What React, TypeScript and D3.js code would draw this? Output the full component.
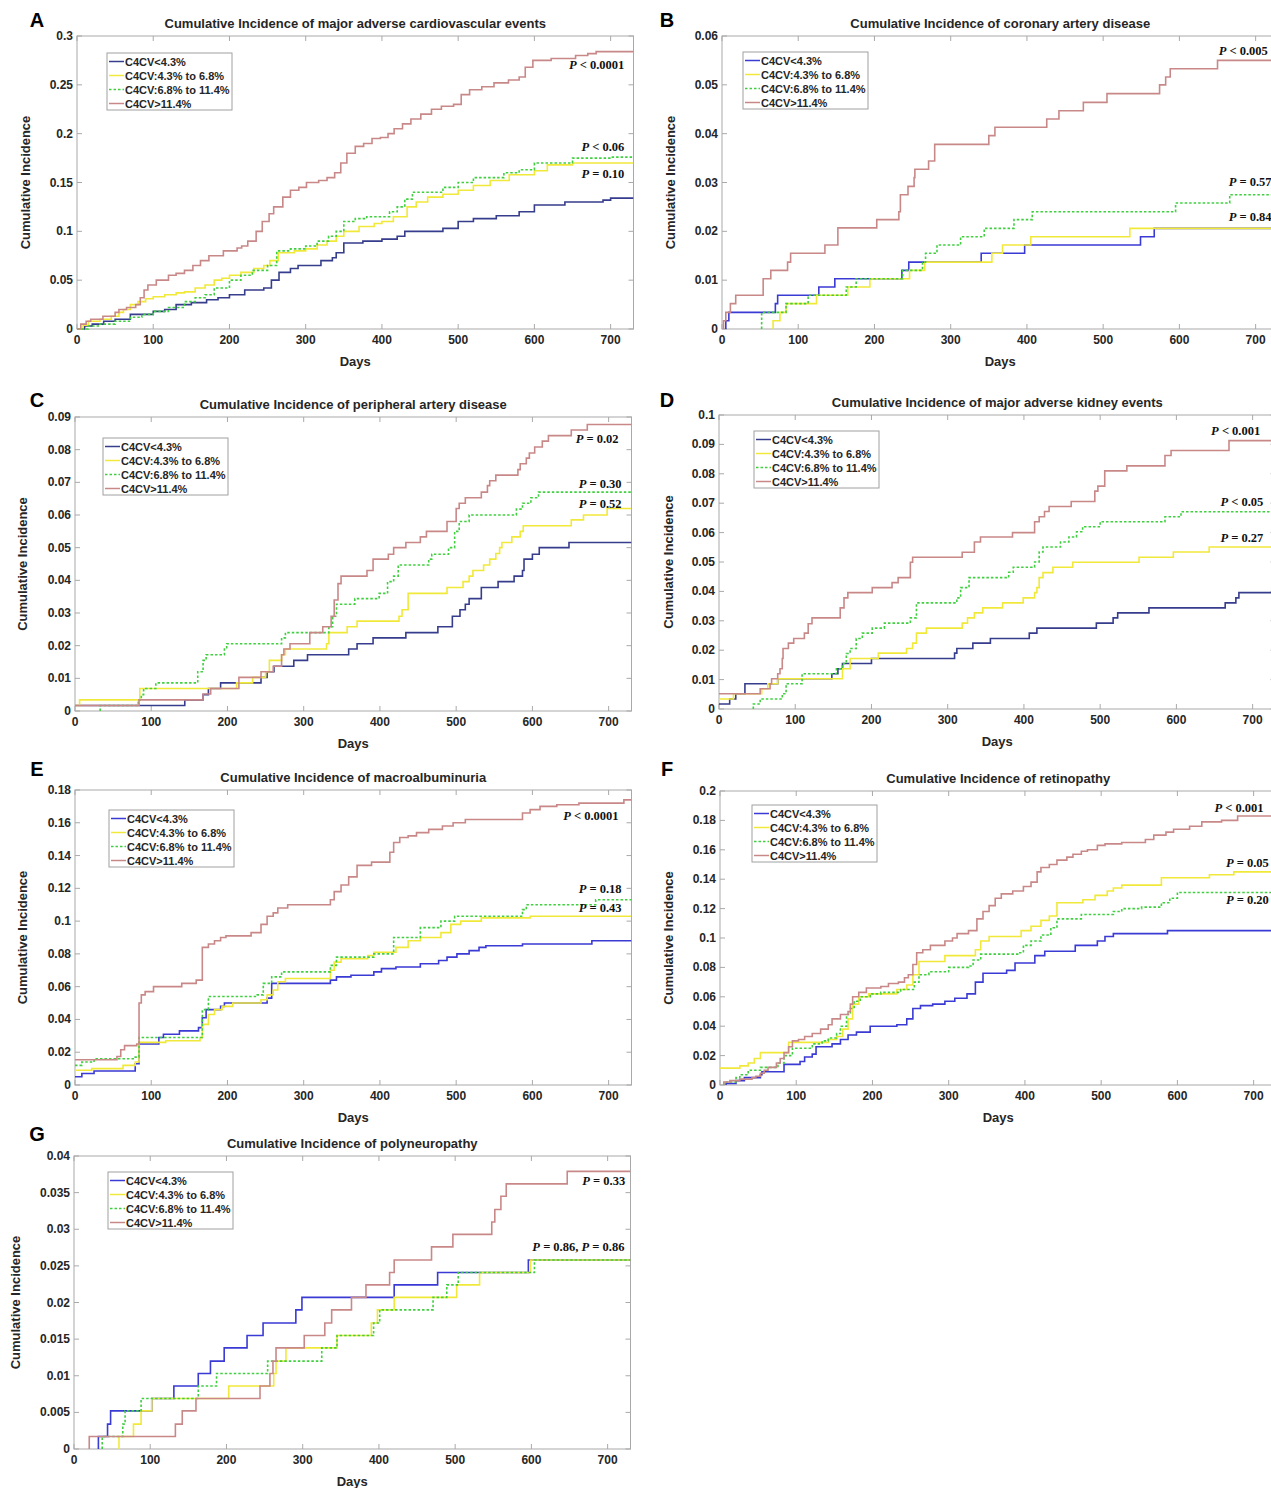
import React from 'react'
import * as d3 from 'd3'

type Pt = [number, number]

const groups = ['C4CV<4.3%', 'C4CV:4.3% to 6.8%', 'C4CV:6.8% to 11.4%', 'C4CV>11.4%']
const xTicks = [0, 100, 200, 300, 400, 500, 600, 700]
const maxDay = 730

// A: major adverse cardiovascular events
const maceBlue: Pt[] = [[0, 0], [10, 0.003], [20, 0.005], [35, 0.008], [50, 0.01], [70, 0.015], [100, 0.018], [115, 0.02], [130, 0.025], [150, 0.027], [170, 0.03], [185, 0.032], [200, 0.035], [220, 0.04], [245, 0.042], [255, 0.05], [265, 0.058], [280, 0.062], [290, 0.065], [320, 0.07], [335, 0.073], [340, 0.078], [350, 0.088], [375, 0.09], [400, 0.092], [420, 0.095], [430, 0.1], [480, 0.103], [500, 0.11], [520, 0.113], [550, 0.116], [580, 0.12], [600, 0.127], [640, 0.13], [690, 0.132], [700, 0.134]]
const maceYellow: Pt[] = [[0, 0], [8, 0.004], [15, 0.008], [30, 0.01], [45, 0.013], [55, 0.017], [61, 0.02], [70, 0.025], [80, 0.028], [90, 0.031], [100, 0.033], [115, 0.035], [130, 0.037], [141, 0.038], [155, 0.042], [168, 0.045], [180, 0.05], [190, 0.052], [200, 0.055], [215, 0.058], [232, 0.062], [245, 0.065], [253, 0.07], [264, 0.078], [285, 0.08], [300, 0.082], [315, 0.086], [328, 0.09], [340, 0.095], [350, 0.1], [370, 0.105], [390, 0.108], [400, 0.11], [415, 0.115], [433, 0.125], [445, 0.13], [460, 0.135], [480, 0.138], [500, 0.142], [520, 0.147], [542, 0.152], [567, 0.158], [600, 0.162], [617, 0.168], [650, 0.17]]
const maceGreen: Pt[] = [[0, 0], [15, 0.003], [30, 0.005], [50, 0.008], [70, 0.012], [85, 0.015], [100, 0.018], [120, 0.022], [141, 0.028], [155, 0.032], [168, 0.035], [180, 0.042], [200, 0.05], [215, 0.055], [230, 0.06], [250, 0.065], [262, 0.08], [280, 0.082], [300, 0.085], [315, 0.09], [330, 0.095], [340, 0.1], [350, 0.11], [365, 0.113], [380, 0.115], [410, 0.12], [420, 0.125], [430, 0.133], [440, 0.14], [480, 0.145], [500, 0.15], [520, 0.155], [560, 0.16], [580, 0.163], [600, 0.17], [650, 0.175], [700, 0.176]]
const maceRed: Pt[] = [[0, 0], [5, 0.005], [12, 0.008], [18, 0.01], [34, 0.013], [50, 0.017], [55, 0.02], [65, 0.022], [77, 0.025], [83, 0.032], [88, 0.04], [93, 0.045], [104, 0.05], [120, 0.055], [130, 0.057], [141, 0.06], [152, 0.065], [162, 0.07], [173, 0.075], [192, 0.08], [210, 0.083], [216, 0.085], [224, 0.09], [235, 0.1], [243, 0.11], [252, 0.118], [258, 0.125], [270, 0.135], [280, 0.142], [291, 0.145], [301, 0.15], [317, 0.152], [328, 0.155], [338, 0.16], [346, 0.17], [354, 0.18], [365, 0.187], [376, 0.19], [387, 0.195], [398, 0.196], [408, 0.2], [416, 0.205], [427, 0.21], [438, 0.215], [451, 0.22], [465, 0.225], [478, 0.228], [494, 0.23], [504, 0.24], [515, 0.245], [531, 0.248], [547, 0.252], [566, 0.255], [580, 0.258], [588, 0.268], [598, 0.275], [622, 0.277], [654, 0.28], [670, 0.282], [681, 0.284]]
const maceP = ['P < 0.0001', 'P < 0.06', 'P = 0.10']

// B: coronary artery disease
const cadBlue: Pt[] = [[5, 0], [5, 0.0017], [9, 0.0034], [70, 0.0052], [73, 0.0069], [127, 0.0086], [148, 0.0103], [236, 0.012], [245, 0.0137], [340, 0.0155], [397, 0.0172], [549, 0.0189], [567, 0.0206]]
const cadYellow: Pt[] = [[67, 0], [67, 0.0017], [76, 0.0034], [84, 0.0052], [124, 0.0069], [165, 0.0086], [194, 0.0103], [246, 0.012], [266, 0.0137], [354, 0.0155], [368, 0.0172], [405, 0.0189], [535, 0.0206]]
const cadGreen: Pt[] = [[52, 0], [52, 0.0034], [84, 0.0052], [113, 0.0069], [163, 0.0086], [176, 0.0103], [237, 0.012], [263, 0.0137], [267, 0.0155], [282, 0.0172], [313, 0.0189], [344, 0.0206], [383, 0.0224], [407, 0.024], [595, 0.0258], [666, 0.0275]]
const cadRed: Pt[] = [[2, 0], [2, 0.0017], [5, 0.0034], [11, 0.0052], [18, 0.0069], [54, 0.0103], [64, 0.012], [86, 0.0137], [90, 0.0155], [135, 0.0172], [152, 0.0207], [203, 0.0224], [232, 0.024], [234, 0.0275], [244, 0.0292], [252, 0.031], [253, 0.0327], [271, 0.0344], [279, 0.0378], [350, 0.0396], [358, 0.0413], [426, 0.043], [442, 0.0447], [474, 0.0464], [505, 0.0482], [574, 0.05], [582, 0.0516], [588, 0.0533], [650, 0.055]]
const cadP = ['P < 0.005', 'P = 0.57', 'P = 0.84']

// C: peripheral artery disease
const padBlue: Pt[] = [[0, 0.0017], [144, 0.0034], [168, 0.005], [175, 0.0069], [191, 0.0086], [244, 0.0103], [252, 0.012], [261, 0.0137], [287, 0.0155], [305, 0.0172], [359, 0.019], [370, 0.0206], [391, 0.0224], [434, 0.024], [476, 0.0258], [495, 0.029], [505, 0.031], [512, 0.0327], [517, 0.0344], [533, 0.0378], [555, 0.0396], [576, 0.0413], [587, 0.043], [589, 0.0465], [600, 0.048], [609, 0.05], [648, 0.0516]]
const padYellow: Pt[] = [[0, 0.0017], [6, 0.0034], [85, 0.0069], [212, 0.0086], [233, 0.0103], [250, 0.012], [255, 0.0155], [271, 0.0172], [276, 0.019], [330, 0.0206], [333, 0.024], [357, 0.0258], [370, 0.0275], [425, 0.029], [429, 0.031], [437, 0.036], [488, 0.0378], [509, 0.0396], [517, 0.0413], [522, 0.043], [536, 0.0447], [544, 0.0465], [552, 0.0482], [557, 0.05], [560, 0.0516], [573, 0.0533], [584, 0.055], [588, 0.0567], [651, 0.0585], [667, 0.06], [698, 0.062]]
const padGreen: Pt[] = [[33, 0], [33, 0.0017], [83, 0.0034], [87, 0.005], [90, 0.0069], [106, 0.0086], [161, 0.012], [168, 0.0155], [172, 0.0172], [196, 0.019], [199, 0.0206], [271, 0.0224], [276, 0.024], [333, 0.0258], [338, 0.029], [343, 0.0327], [367, 0.0344], [399, 0.036], [410, 0.0396], [418, 0.0413], [424, 0.0447], [464, 0.0465], [468, 0.048], [490, 0.05], [498, 0.055], [504, 0.058], [517, 0.06], [579, 0.0618], [587, 0.0636], [598, 0.0653], [608, 0.067]]
const padRed: Pt[] = [[0, 0.0017], [84, 0.0034], [168, 0.0052], [178, 0.0069], [215, 0.0103], [244, 0.012], [260, 0.0137], [271, 0.0172], [274, 0.019], [282, 0.0206], [308, 0.024], [325, 0.0258], [336, 0.029], [340, 0.034], [345, 0.039], [349, 0.0413], [383, 0.043], [391, 0.0465], [411, 0.048], [418, 0.05], [434, 0.0516], [453, 0.0533], [461, 0.055], [488, 0.058], [500, 0.062], [504, 0.0636], [512, 0.0653], [533, 0.067], [541, 0.069], [544, 0.0705], [552, 0.0722], [581, 0.0739], [584, 0.0757], [592, 0.0774], [596, 0.079], [603, 0.0808], [613, 0.0826], [621, 0.0843], [651, 0.086], [672, 0.0877]]
const padP = ['P = 0.02', 'P = 0.30', 'P = 0.52']

// D: major adverse kidney events
const makeBlue: Pt[] = [[0, 0.0017], [14, 0.0034], [22, 0.0052], [34, 0.0086], [77, 0.0103], [148, 0.012], [156, 0.0137], [162, 0.0155], [200, 0.0172], [309, 0.019], [312, 0.0206], [333, 0.0224], [356, 0.024], [407, 0.0258], [417, 0.0275], [495, 0.0292], [517, 0.031], [523, 0.0327], [564, 0.0344], [664, 0.0361], [678, 0.0378], [682, 0.0396]]
const makeYellow: Pt[] = [[0, 0.0034], [19, 0.0052], [56, 0.0069], [64, 0.0086], [77, 0.0103], [162, 0.0137], [172, 0.0172], [209, 0.019], [246, 0.0206], [254, 0.0224], [259, 0.0258], [272, 0.0275], [319, 0.0292], [326, 0.031], [335, 0.0327], [346, 0.0344], [372, 0.0361], [399, 0.0378], [414, 0.0396], [417, 0.0413], [420, 0.0447], [425, 0.0464], [438, 0.0482], [464, 0.0499], [551, 0.0516], [596, 0.0534], [643, 0.0551]]
const makeGreen: Pt[] = [[45, 0], [45, 0.0017], [54, 0.0034], [83, 0.0052], [88, 0.0086], [109, 0.012], [154, 0.0137], [162, 0.0155], [167, 0.0189], [172, 0.0206], [180, 0.024], [188, 0.0258], [201, 0.0275], [217, 0.0292], [251, 0.031], [259, 0.0361], [312, 0.0378], [317, 0.0413], [328, 0.0447], [380, 0.0465], [386, 0.0482], [414, 0.05], [420, 0.0534], [425, 0.0551], [448, 0.0568], [459, 0.0585], [469, 0.0603], [477, 0.062], [500, 0.0637], [585, 0.0654], [606, 0.0671]]
const makeRed: Pt[] = [[0, 0.0052], [54, 0.0069], [67, 0.0086], [69, 0.0103], [77, 0.012], [80, 0.0137], [83, 0.0172], [84, 0.0206], [91, 0.0224], [98, 0.024], [112, 0.0258], [117, 0.029], [122, 0.031], [159, 0.0344], [164, 0.0378], [169, 0.0396], [201, 0.0413], [227, 0.043], [235, 0.0447], [251, 0.0499], [254, 0.0516], [319, 0.0533], [335, 0.0568], [343, 0.0585], [385, 0.06], [414, 0.0637], [420, 0.0654], [427, 0.0672], [433, 0.0689], [462, 0.0706], [493, 0.0741], [497, 0.0758], [506, 0.081], [535, 0.0827], [585, 0.0862], [593, 0.0879], [669, 0.0913]]
const makeP = ['P < 0.001', 'P < 0.05', 'P = 0.27']

// E: macroalbuminuria
const macroBlue: Pt[] = [[0, 0.005], [9, 0.007], [25, 0.0085], [79, 0.013], [84, 0.025], [110, 0.029], [116, 0.031], [137, 0.033], [162, 0.035], [167, 0.041], [172, 0.046], [191, 0.048], [196, 0.05], [252, 0.053], [258, 0.062], [335, 0.064], [343, 0.066], [362, 0.067], [392, 0.069], [402, 0.071], [421, 0.072], [453, 0.074], [477, 0.076], [488, 0.078], [501, 0.08], [517, 0.082], [530, 0.084], [539, 0.085], [587, 0.086], [678, 0.088]]
const macroYellow: Pt[] = [[0, 0.009], [22, 0.01], [63, 0.012], [79, 0.014], [84, 0.026], [119, 0.027], [164, 0.029], [167, 0.037], [175, 0.043], [183, 0.046], [193, 0.048], [207, 0.05], [244, 0.052], [252, 0.055], [260, 0.058], [266, 0.063], [276, 0.065], [335, 0.07], [340, 0.075], [349, 0.077], [384, 0.079], [392, 0.081], [421, 0.084], [437, 0.088], [453, 0.09], [480, 0.093], [493, 0.098], [506, 0.1], [533, 0.102], [597, 0.103]]
const macroGreen: Pt[] = [[0, 0.012], [9, 0.014], [25, 0.016], [79, 0.017], [84, 0.029], [167, 0.046], [175, 0.054], [239, 0.055], [247, 0.062], [258, 0.066], [271, 0.069], [335, 0.073], [343, 0.078], [392, 0.08], [418, 0.09], [453, 0.096], [480, 0.1], [498, 0.103], [587, 0.107], [592, 0.11], [683, 0.113]]
const macroRed: Pt[] = [[0, 0.0154], [55, 0.0174], [60, 0.0215], [65, 0.024], [81, 0.025], [84, 0.05], [87, 0.055], [92, 0.057], [103, 0.06], [140, 0.062], [159, 0.064], [167, 0.084], [175, 0.086], [183, 0.088], [191, 0.09], [198, 0.091], [231, 0.093], [244, 0.098], [252, 0.103], [260, 0.105], [266, 0.108], [279, 0.11], [335, 0.113], [340, 0.118], [349, 0.122], [359, 0.127], [370, 0.134], [389, 0.136], [413, 0.142], [418, 0.148], [426, 0.151], [437, 0.152], [448, 0.154], [464, 0.156], [482, 0.158], [496, 0.16], [512, 0.162], [587, 0.166], [597, 0.168], [610, 0.17], [632, 0.171], [661, 0.172], [720, 0.174]]
const macroP = ['P < 0.0001', 'P = 0.18', 'P = 0.43']

// F: retinopathy
const retBlue: Pt[] = [[8, 0], [8, 0.001], [21, 0.003], [32, 0.005], [53, 0.007], [55, 0.009], [84, 0.014], [105, 0.016], [111, 0.019], [121, 0.021], [126, 0.026], [147, 0.028], [158, 0.031], [168, 0.034], [179, 0.036], [197, 0.04], [232, 0.041], [245, 0.045], [253, 0.052], [263, 0.054], [279, 0.055], [295, 0.057], [308, 0.059], [324, 0.062], [335, 0.07], [345, 0.076], [376, 0.078], [387, 0.083], [413, 0.088], [426, 0.091], [466, 0.095], [495, 0.098], [505, 0.101], [516, 0.103], [587, 0.105]]
const retYellow: Pt[] = [[0, 0.0115], [26, 0.013], [37, 0.015], [45, 0.018], [53, 0.022], [90, 0.029], [142, 0.031], [153, 0.033], [161, 0.038], [168, 0.045], [174, 0.055], [182, 0.06], [195, 0.062], [232, 0.065], [245, 0.068], [253, 0.075], [261, 0.084], [295, 0.088], [335, 0.092], [342, 0.098], [353, 0.101], [395, 0.105], [408, 0.108], [421, 0.112], [432, 0.115], [442, 0.124], [476, 0.126], [492, 0.129], [508, 0.132], [516, 0.134], [527, 0.136], [579, 0.141], [642, 0.143], [674, 0.145]]
const retGreen: Pt[] = [[5, 0], [5, 0.002], [21, 0.005], [26, 0.007], [37, 0.01], [53, 0.012], [76, 0.015], [84, 0.02], [95, 0.025], [121, 0.028], [134, 0.03], [142, 0.032], [153, 0.035], [158, 0.04], [166, 0.048], [171, 0.052], [176, 0.057], [184, 0.06], [197, 0.062], [211, 0.063], [237, 0.065], [255, 0.07], [261, 0.075], [274, 0.077], [300, 0.08], [326, 0.081], [332, 0.085], [342, 0.089], [392, 0.09], [398, 0.095], [408, 0.098], [421, 0.102], [434, 0.107], [442, 0.113], [474, 0.116], [516, 0.118], [527, 0.12], [553, 0.121], [579, 0.124], [590, 0.127], [600, 0.131]]
const retRed: Pt[] = [[5, 0], [5, 0.002], [13, 0.003], [26, 0.004], [42, 0.005], [47, 0.006], [53, 0.008], [58, 0.01], [63, 0.012], [74, 0.015], [79, 0.018], [84, 0.022], [90, 0.026], [95, 0.03], [103, 0.031], [111, 0.033], [121, 0.035], [132, 0.038], [142, 0.041], [147, 0.045], [158, 0.048], [168, 0.05], [171, 0.055], [174, 0.06], [182, 0.063], [192, 0.066], [211, 0.067], [221, 0.069], [234, 0.07], [242, 0.073], [247, 0.075], [253, 0.082], [258, 0.09], [266, 0.092], [276, 0.095], [295, 0.098], [305, 0.1], [311, 0.103], [326, 0.105], [337, 0.113], [345, 0.118], [353, 0.122], [361, 0.127], [369, 0.13], [384, 0.132], [398, 0.135], [408, 0.138], [416, 0.145], [421, 0.148], [432, 0.15], [442, 0.153], [455, 0.155], [463, 0.157], [474, 0.159], [482, 0.16], [495, 0.163], [505, 0.164], [527, 0.165], [558, 0.167], [569, 0.17], [585, 0.172], [595, 0.174], [616, 0.176], [632, 0.179], [658, 0.18], [679, 0.183]]
const retP = ['P < 0.001', 'P = 0.05', 'P = 0.20']

// G: polyneuropathy
const polyBlue: Pt[] = [[32, 0], [32, 0.0017], [44, 0.0034], [48, 0.0052], [102, 0.0069], [131, 0.0086], [163, 0.0103], [179, 0.012], [197, 0.0138], [227, 0.0155], [248, 0.0172], [291, 0.019], [299, 0.0207], [420, 0.0224], [477, 0.0241], [596, 0.0258]]
const polyYellow: Pt[] = [[59, 0], [59, 0.0017], [78, 0.0034], [88, 0.0052], [102, 0.0069], [203, 0.0086], [262, 0.0103], [265, 0.012], [278, 0.0138], [345, 0.0155], [390, 0.0172], [398, 0.019], [420, 0.0207], [502, 0.0224], [532, 0.0241], [599, 0.0258]]
const polyGreen: Pt[] = [[37, 0], [37, 0.0017], [64, 0.0034], [67, 0.0052], [88, 0.0069], [163, 0.0086], [187, 0.0103], [254, 0.012], [325, 0.0138], [345, 0.0155], [393, 0.0172], [401, 0.019], [471, 0.0207], [489, 0.0224], [504, 0.0241], [604, 0.0258]]
const polyRed: Pt[] = [[20, 0], [20, 0.0017], [133, 0.0034], [142, 0.0052], [160, 0.0069], [244, 0.0086], [257, 0.0103], [261, 0.012], [265, 0.0138], [302, 0.0155], [329, 0.0172], [338, 0.019], [364, 0.0207], [383, 0.0224], [414, 0.0241], [420, 0.0258], [469, 0.0276], [497, 0.0293], [548, 0.031], [552, 0.0327], [560, 0.0345], [567, 0.0362], [647, 0.0379]]
const polyP = ['P = 0.33', 'P = 0.86, P = 0.86']

const NAVY = '#363d8c'
const BLUE = '#3a3ad4'
const YELLOW = '#f1e93a'
const GREEN = '#3fcf3f'
const RED = '#c98888'
const AXIS = '#a9a9a9'
const INK = '#262626'
const PLOT_W = 556.5

const panels = [
  { id: 'A', title: 'Cumulative Incidence of major adverse cardiovascular events', yMax: 0.3, yStep: 0.05, series: [maceBlue, maceYellow, maceGreen, maceRed], pv: maceP, blue: NAVY,
    left: 77, top: 36, bottom: 329, letter: [37, 27], legend: [30, 17], ylab: 47.5, pPos: [[718, 0.266], [718, 0.182], [718, 0.155]] },
  { id: 'B', title: 'Cumulative Incidence of coronary artery disease', yMax: 0.06, yStep: 0.01, series: [cadBlue, cadYellow, cadGreen, cadRed], pv: cadP, blue: BLUE,
    left: 722, top: 36, bottom: 329, letter: [667, 27], legend: [21, 16], ylab: 47.5, pPos: [[716, 0.0561], [721, 0.0293], [721, 0.0221]] },
  { id: 'C', title: 'Cumulative Incidence of peripheral artery disease', yMax: 0.09, yStep: 0.01, series: [padBlue, padYellow, padGreen, padRed], pv: padP, blue: NAVY,
    left: 75, top: 417, bottom: 711, letter: [37, 407], legend: [28, 21], ylab: 48.5, pPos: [[713, 0.082], [717, 0.0683], [717, 0.0621]] },
  { id: 'D', title: 'Cumulative Incidence of major adverse kidney events', yMax: 0.1, yStep: 0.01, series: [makeBlue, makeYellow, makeGreen, makeRed], pv: makeP, blue: NAVY,
    left: 719, top: 415, bottom: 709, letter: [667, 407], legend: [35, 16], ylab: 46.5, pPos: [[710, 0.0932], [714, 0.069], [714, 0.0568]] },
  { id: 'E', title: 'Cumulative Incidence of macroalbuminuria', yMax: 0.18, yStep: 0.02, series: [macroBlue, macroYellow, macroGreen, macroRed], pv: macroP, blue: BLUE,
    left: 75, top: 790, bottom: 1085, letter: [37, 776], legend: [34, 20], ylab: 48.5, pPos: [[713, 0.1617], [717, 0.117], [717, 0.1056]] },
  { id: 'F', title: 'Cumulative Incidence of retinopathy', yMax: 0.2, yStep: 0.02, series: [retBlue, retYellow, retGreen, retRed], pv: retP, blue: BLUE,
    left: 720, top: 791, bottom: 1085, letter: [667, 776], legend: [32, 14], ylab: 47.5, pPos: [[713, 0.1857], [720, 0.1483], [720, 0.1231]] },
  { id: 'G', title: 'Cumulative Incidence of polyneuropathy', yMax: 0.04, yStep: 0.005, series: [polyBlue, polyYellow, polyGreen, polyRed], pv: polyP, blue: BLUE,
    left: 74, top: 1156, bottom: 1449, letter: [37, 1141], legend: [34, 16], ylab: 54.5, pPos: [[723, 0.036], [722, 0.027]] },
]

const fmt = (v: number) => String(+v.toFixed(4))

function PText({ s, x, y }: { s: string, x: number, y: number }) {
  const parts = s.split('P')
  return (
    <text x={x} y={y} textAnchor="end" fontFamily="'Liberation Serif', 'Times New Roman', serif" fontWeight="bold" fontSize={12.5} fill="#111">
      {parts.map((p, i) => (
        <React.Fragment key={i}>
          {i > 0 && <tspan fontStyle="italic">P</tspan>}
          {p && <tspan>{p}</tspan>}
        </React.Fragment>
      ))}
    </text>
  )
}

function Panel({ cfg }: { cfg: typeof panels[number] }) {
  const { left, top, bottom } = cfg
  const x = d3.scaleLinear().domain([0, maxDay]).range([left, left + PLOT_W])
  const y = d3.scaleLinear().domain([0, cfg.yMax]).range([bottom, top])
  const right = x(maxDay)
  const line = d3.line<Pt>().x(d => x(d[0])).y(d => y(d[1])).curve(d3.curveStepAfter)
  const yTicks = d3.range(0, cfg.yMax + cfg.yStep / 2, cfg.yStep)
  const colors = [cfg.blue, YELLOW, GREEN, RED]
  const clip = 'clip' + cfg.id
  const lx = left + cfg.legend[0]
  const ly = top + cfg.legend[1]
  const font = "'Liberation Sans', Arial, sans-serif"

  return (
    <g>
      <defs>
        <clipPath id={clip}><rect x={left} y={top - 1} width={PLOT_W} height={bottom - top + 2} /></clipPath>
      </defs>
      <text x={cfg.letter[0]} y={cfg.letter[1]} textAnchor="middle" fontFamily={font} fontWeight="bold" fontSize={20} fill="#000">{cfg.id}</text>
      <text x={(left + right) / 2} y={top - 8} textAnchor="middle" fontFamily={font} fontWeight="bold" fontSize={13} fill={INK}>{cfg.title}</text>

      <rect x={left} y={top} width={PLOT_W} height={bottom - top} fill="#fff" stroke={AXIS} strokeWidth={1} />
      {xTicks.map(t => (
        <g key={'x' + t}>
          <line x1={x(t)} x2={x(t)} y1={bottom} y2={bottom - 5} stroke={AXIS} />
          <line x1={x(t)} x2={x(t)} y1={top} y2={top + 5} stroke={AXIS} />
          <text x={x(t)} y={bottom + 15} textAnchor="middle" fontFamily={font} fontWeight="bold" fontSize={12} fill={INK}>{t}</text>
        </g>
      ))}
      {yTicks.map(t => (
        <g key={'y' + t}>
          <line x1={left} x2={left + 5} y1={y(t)} y2={y(t)} stroke={AXIS} />
          <line x1={right} x2={right - 5} y1={y(t)} y2={y(t)} stroke={AXIS} />
          <text x={left - 4} y={y(t) + 4} textAnchor="end" fontFamily={font} fontWeight="bold" fontSize={12} fill={INK}>{fmt(t)}</text>
        </g>
      ))}

      <g clipPath={`url(#${clip})`}>
        {cfg.series.map((s, i) => {
          const pts: Pt[] = [...s, [maxDay, s[s.length - 1][1]]]
          return (
            <path key={i} d={line(pts) || ''} fill="none" stroke={colors[i]} strokeWidth={1.6}
              strokeDasharray={i === 2 ? '2.5,2' : undefined} />
          )
        })}
      </g>

      {cfg.pv.map((s, i) => (
        <PText key={i} s={s} x={x(cfg.pPos[i][0])} y={y(cfg.pPos[i][1])} />
      ))}

      <rect x={lx} y={ly} width={125} height={57} fill="#fff" stroke="#a0a0a0" />
      {groups.map((g, i) => (
        <g key={g}>
          <line x1={lx + 2} x2={lx + 17} y1={ly + 8.5 + i * 14} y2={ly + 8.5 + i * 14} stroke={colors[i]} strokeWidth={1.5}
            strokeDasharray={i === 2 ? '2.5,2' : undefined} />
          <text x={lx + 18} y={ly + 12.5 + i * 14} fontFamily={font} fontWeight="bold" fontSize={11} fill={INK}>{g}</text>
        </g>
      ))}

      <text x={(left + right) / 2} y={bottom + 37} textAnchor="middle" fontFamily={font} fontWeight="bold" fontSize={13} fill={INK}>Days</text>
      <text transform={`translate(${left - cfg.ylab},${(top + bottom) / 2}) rotate(-90)`} textAnchor="middle" fontFamily={font} fontWeight="bold" fontSize={13} fill={INK}>Cumulative Incidence</text>
    </g>
  )
}

export default function App() {
  return (
    <svg width={1271} height={1488} viewBox="0 0 1271 1488" style={{ position: 'absolute', left: 0, top: 0, background: '#fff' }}>
      {panels.map(p => <Panel key={p.id} cfg={p} />)}
    </svg>
  )
}
